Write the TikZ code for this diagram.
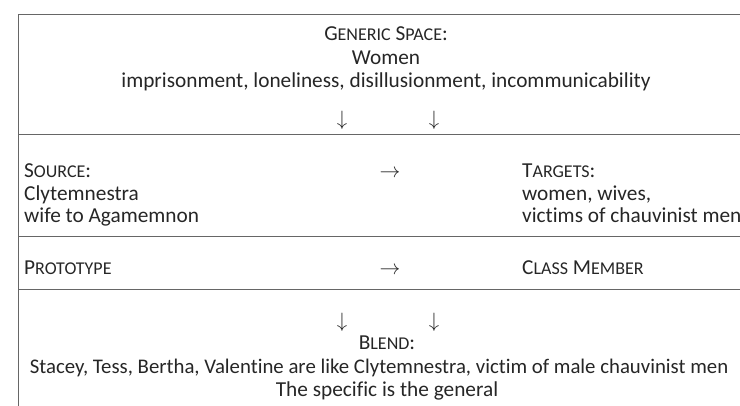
\documentclass[tikz,border=0pt]{standalone}
\usepackage{fontspec}
\setmainfont[Ligatures=NoCommon]{Carlito}
\newcommand\fsc[2]{#1{\fontsize{18}{20}\selectfont #2}}
\begin{document}
\begin{tikzpicture}[x=1pt,y=-1pt,
  txt/.style={inner sep=0pt, anchor=base, text=black!85, font=\fontsize{21.3}{23}\selectfont},
  ltxt/.style={txt, anchor=base west},
  rule/.style={draw=black!60, line width=0.9pt}]
\useasboundingbox (0,0) rectangle (740,405);
\clip (0,0) rectangle (740,405);
% frame
\coordinate (tl) at (18,14);
\coordinate (tr) at (745,14);
\coordinate (bl) at (18,410);
\draw[rule] (tr) -- (tl) -- (bl);
\coordinate (a1) at (18,134); \coordinate (a2) at (745,134);
\coordinate (b1) at (18,236); \coordinate (b2) at (745,236);
\coordinate (c1) at (18,289); \coordinate (c2) at (745,289);
\draw[rule] (a1) -- (a2);
\draw[rule] (b1) -- (b2);
\draw[rule] (c1) -- (c2);
% generic space
\node[txt] (gs) at (386,40) {\fsc{G}{ENERIC} \fsc{S}{PACE}:};
\node[txt] (gw) at (386,64) {Women};
\node[txt] (gl) at (386,87) {imprisonment, loneliness, disillusionment, incommunicability};
\node[txt] (d1) at (342,125) {$\downarrow$};
\node[txt] (d2) at (434,125) {$\downarrow$};
% source / targets
\node[ltxt] (s1) at (24,177) {\fsc{S}{OURCE}:};
\node[ltxt] (s2) at (24,200) {Clytemnestra};
\node[ltxt] (s3) at (24,222) {wife to Agamemnon};
\node[txt] (r1) at (390,177) {$\rightarrow$};
\node[ltxt] (t1) at (522,177) {\fsc{T}{ARGETS}:};
\node[ltxt] (t2) at (522,200) {women, wives,};
\node[ltxt] (t3) at (522,222) {victims of chauvinist men};
% prototype
\node[ltxt] (p1) at (24,274) {\fsc{P}{ROTOTYPE}};
\node[txt] (r2) at (390,274) {$\rightarrow$};
\node[ltxt] (p2) at (522,274) {\fsc{C}{LASS} \fsc{M}{EMBER}};
% blend
\node[txt] (d3) at (342,327) {$\downarrow$};
\node[txt] (d4) at (434,327) {$\downarrow$};
\node[txt] (bl1) at (387,349) {\fsc{B}{LEND}:};
\node[txt, font=\fontsize{20.8}{23}\selectfont] (bl2) at (379,373) {Stacey, Tess, Bertha, Valentine are like Clytemnestra, victim of male chauvinist men};
\node[txt] (bl3) at (387,396) {The specific is the general};
\end{tikzpicture}
\end{document}
